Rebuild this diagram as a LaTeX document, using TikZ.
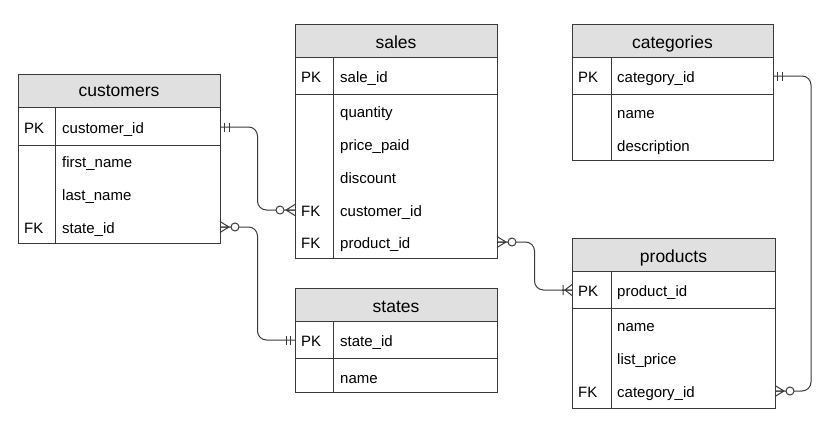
\documentclass[tikz,border=0pt]{standalone}
\usepackage{fontspec}
\setmainfont{Liberation Sans}
\usetikzlibrary{calc}
\definecolor{linegray}{HTML}{3A3A3A}
\definecolor{headfill}{HTML}{E0E0E0}
% one table: #1 left, #2 right, #3 top, #4 header bottom, #5 key separator, #6 bottom, #7 key column divider
\newcommand\erentity[7]{%
  \fill[headfill] (#1,#3) rectangle (#2,#4);
  \draw[frame] (#1,#3) rectangle (#2,#6);
  \draw[frame] (#1,#4) -- (#2,#4);
  \draw[frame] (#1,#5) -- (#2,#5);
  \draw[frame] (#7,#4) -- (#7,#6);
}
\begin{document}
\begin{tikzpicture}[x=1pt,y=-1pt,
  frame/.style={draw=linegray, line width=1pt},
  link/.style={draw=linegray, line width=1pt, rounded corners=9pt},
  mark line/.style={draw=linegray, line width=1pt},
  hdr/.style={font=\fontsize{17.5}{20}\selectfont, anchor=base, inner sep=0pt},
  fld/.style={font=\fontsize{15}{18}\selectfont, anchor=base west, inner sep=0pt},
  pics/only one/.style={code={
    \draw[mark line] (4.5,-4.5) -- (4.5,4.5) (9,-4.5) -- (9,4.5);}},
  pics/zero many/.style={code={
    \draw[mark line] (0,-5.5) -- (9,0) -- (0,5.5) (0,0) -- (9,0);
    \draw[mark line, fill=white] (15,0) circle (4);}},
  pics/one many/.style={code={
    \draw[mark line] (0,-5.5) -- (7,0) -- (0,5.5) (0,0) -- (10,0) (9,-5) -- (9,5);}},
]
\useasboundingbox (0,0) rectangle (839,439);

% ---------- customers ----------
\erentity{18}{220}{74}{107}{145}{243}{55}
\node[hdr] (cust-h) at (119,96) {customers};
\node[fld] (cust-pkl) at (24,133) {PK};
\node[fld] (cust-pk) at (62,133) {customer\_id};
\node[fld] (cust-f1) at (62,167) {first\_name};
\node[fld] (cust-f2) at (62,200) {last\_name};
\node[fld] (cust-fkl) at (24,233) {FK};
\node[fld] (cust-fk) at (62,233) {state\_id};
\coordinate (cust-pk-e) at (220,127);
\coordinate (cust-fk-e) at (220,227);

% ---------- sales ----------
\erentity{295}{497}{24}{57}{94}{258}{333}
\node[hdr] (sales-h) at (396,48) {sales};
\node[fld] (sales-pkl) at (301,82) {PK};
\node[fld] (sales-pk) at (340,82) {sale\_id};
\node[fld] (sales-f1) at (340,117) {quantity};
\node[fld] (sales-f2) at (340,150) {price\_paid};
\node[fld] (sales-f3) at (340,183) {discount};
\node[fld] (sales-fk1l) at (301,216) {FK};
\node[fld] (sales-fk1) at (340,216) {customer\_id};
\node[fld] (sales-fk2l) at (301,248) {FK};
\node[fld] (sales-fk2) at (340,248) {product\_id};
\coordinate (sales-fk1-w) at (295,210);
\coordinate (sales-fk2-e) at (497,242);

% ---------- categories ----------
\erentity{572}{773}{24}{57}{94}{160}{611}
\node[hdr] (cat-h) at (672.5,48) {categories};
\node[fld] (cat-pkl) at (578,82) {PK};
\node[fld] (cat-pk) at (617,82) {category\_id};
\node[fld] (cat-f1) at (617,118) {name};
\node[fld] (cat-f2) at (617,151) {description};
\coordinate (cat-pk-e) at (773,76);

% ---------- states ----------
\erentity{295}{497}{288}{321}{358}{392}{333}
\node[hdr] (st-h) at (396,312) {states};
\node[fld] (st-pkl) at (301,346) {PK};
\node[fld] (st-pk) at (340,346) {state\_id};
\node[fld] (st-f1) at (340,383) {name};
\coordinate (st-pk-w) at (295,340);

% ---------- products ----------
\erentity{572}{775}{238}{271}{308}{408}{611}
\node[hdr] (prod-h) at (673.5,262) {products};
\node[fld] (prod-pkl) at (578,296) {PK};
\node[fld] (prod-pk) at (617,296) {product\_id};
\node[fld] (prod-f1) at (617,331) {name};
\node[fld] (prod-f2) at (617,364) {list\_price};
\node[fld] (prod-fkl) at (578,397) {FK};
\node[fld] (prod-fk) at (617,397) {category\_id};
\coordinate (prod-pk-w) at (572,290);
\coordinate (prod-fk-e) at (775,391);

% ---------- relationships ----------
\draw[link] (cust-pk-e) -| ($(cust-pk-e)!.5!(sales-fk1-w)$) |- (sales-fk1-w);
\draw[link] (cust-fk-e) -| ($(cust-fk-e)!.5!(st-pk-w)$) |- (st-pk-w);
\draw[link] (sales-fk2-e) -| ($(sales-fk2-e)!.5!(prod-pk-w)$) |- (prod-pk-w);
\draw[link] (cat-pk-e) -- ++(38,0) |- (prod-fk-e);

\pic at (cust-pk-e) {only one};
\pic[rotate=180] at (sales-fk1-w) {zero many};
\pic at (cust-fk-e) {zero many};
\pic[rotate=180] at (st-pk-w) {only one};
\pic at (sales-fk2-e) {zero many};
\pic[rotate=180] at (prod-pk-w) {one many};
\pic at (cat-pk-e) {only one};
\pic at (prod-fk-e) {zero many};
\end{tikzpicture}
\end{document}
